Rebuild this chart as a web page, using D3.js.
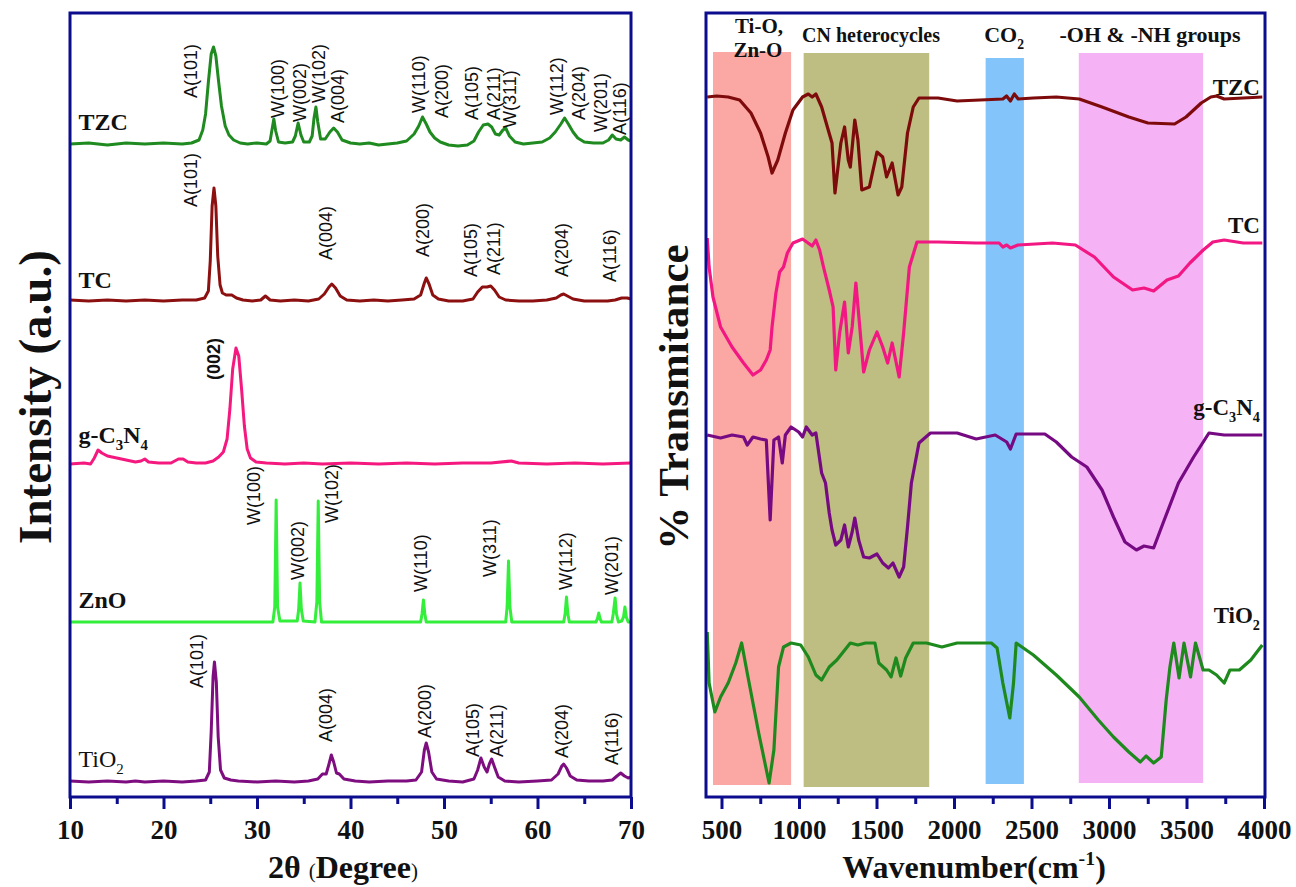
<!DOCTYPE html>
<html><head><meta charset="utf-8">
<script src="https://cdn.jsdelivr.net/npm/d3@7"></script>
<style>body{margin:0;background:#fff} svg{display:block}</style>
</head><body><svg id="c" width="1296" height="887"></svg>
<script>
// ---------------- XRD (left panel) : [2theta, relative intensity a.u.] ----------------
const xrdNames = ["TZC", "TC", "g-C3N4", "ZnO", "TiO2"];
const xrdOffsets = [656, 499, 336, 178, 18];
const xrdTZC = [[10,0],[12,1],[14,-1],[16,1],[18,0],[20,1],[22,0],[23,1],[23.8,4],[24.2,14],[24.5,30],[24.8,62],[25.1,90],[25.35,97],[25.6,88],[25.9,62],[26.2,38],[26.6,18],[27,9],[27.5,4],[28.2,1],[29,0],[30,1],[31,0],[31.4,3],[31.6,14],[31.8,25],[32.0,13],[32.3,2],[33,1],[33.8,2],[34.1,8],[34.4,21],[34.7,9],[35.0,2],[35.6,2],[35.9,8],[36.1,26],[36.3,37],[36.5,22],[36.8,5],[37.3,5],[37.8,12],[38.2,16],[38.6,12],[39.1,4],[40,1],[41,0],[42,1],[43,-1],[44,0],[45,1],[46,3],[46.8,10],[47.3,18],[47.7,27],[48.1,20],[48.5,12],[49,6],[49.6,2],[50.5,-1],[51.5,-2],[52.5,-1],[53.2,3],[53.7,12],[54.2,19],[54.7,20],[55.1,17],[55.5,10],[55.9,9],[56.3,14],[56.6,16],[57,8],[57.6,2],[58.5,0],[59.5,1],[60.5,2],[61.3,6],[61.9,12],[62.5,20],[62.9,26],[63.3,20],[63.8,12],[64.3,6],[65,2],[66,1],[67,1],[67.6,4],[68.0,9],[68.4,5],[68.9,4],[69.3,7],[69.7,4],[70,3]];
const xrdTC = [[10,1],[12,0],[14,1],[16,0],[18,1],[20,0],[22,1],[23.5,1],[24.4,3],[24.8,10],[25.0,40],[25.2,95],[25.4,113],[25.6,95],[25.8,45],[26.05,16],[26.3,8],[26.7,6],[27.3,6],[27.8,3],[28.5,1],[29.5,0],[30.4,1],[30.9,5],[31.4,1],[32.5,0],[34,1],[35.5,0],[36.6,2],[37.2,7],[37.7,14],[38.0,17],[38.4,13],[38.9,5],[39.6,1],[41,0],[42.5,1],[44,0],[45.5,1],[46.8,2],[47.5,6],[47.9,18],[48.1,23],[48.4,17],[48.8,6],[49.4,2],[50.5,0],[52,0],[53.1,2],[53.6,9],[54.1,14],[54.6,14],[55.0,15],[55.4,11],[55.9,4],[56.6,1],[58,0],[59.5,0],[61,1],[62,3],[62.5,6],[62.8,7],[63.2,5],[63.8,2],[65,0],[66.5,0],[67.5,0],[68.3,1],[69,3],[69.6,3],[70,2]];
const xrdGCN = [[10,0],[11.5,1],[12.2,0],[12.6,6],[13.0,14],[13.4,11],[14,8],[15,6],[16,4],[17,2],[17.6,3],[18.0,5],[18.4,2],[19.5,1],[20.8,1],[21.6,5],[22.1,5],[22.6,2],[23.5,1],[24.5,1],[25.3,3],[25.9,7],[26.4,12],[26.8,25],[27.1,55],[27.4,95],[27.75,116],[28.05,108],[28.35,75],[28.65,38],[28.95,15],[29.3,6],[29.9,2],[31,1],[33,0],[35,1],[37,0],[40,1],[43,0],[46,1],[49,0],[52,1],[55,1],[57.2,3],[58,1],[61,0],[64,1],[67,0],[70,1]];
const xrdZnO = [[10,0],[31.7,0],[31.9,15],[32.05,122],[32.2,15],[32.45,1],[34.3,1],[34.45,12],[34.6,39],[34.75,12],[34.95,1],[36.2,0],[36.4,20],[36.55,121],[36.7,20],[36.9,0],[47.5,0],[47.65,8],[47.8,22],[47.95,8],[48.1,0],[56.6,0],[56.75,15],[56.9,61],[57.05,15],[57.25,0],[62.8,0],[62.95,8],[63.1,25],[63.25,8],[63.4,0],[66.25,0],[66.4,3],[66.55,9],[66.7,3],[66.85,0],[67.95,0],[68.1,8],[68.3,24],[68.45,8],[68.65,0],[69.0,1],[69.2,5],[69.35,15],[69.5,5],[69.7,0],[70,0]];
const xrdTiO2 = [[10,1],[12,0],[14,1],[16,0],[17,1],[18,0],[20,1],[22,0],[23.5,1],[24.5,2],[24.9,10],[25.1,50],[25.3,105],[25.45,120],[25.65,100],[25.85,45],[26.1,12],[26.5,4],[27.2,2],[28,1],[30,0],[32,1],[34,0],[35.5,1],[36.5,3],[37.0,8],[37.4,8],[37.7,18],[37.95,27],[38.2,20],[38.5,9],[38.8,8],[39.3,3],[40.5,1],[42,0],[44,1],[46,1],[47,2],[47.6,10],[47.9,32],[48.1,39],[48.35,30],[48.7,10],[49.2,3],[50.5,1],[52,0],[53.2,3],[53.6,12],[53.95,24],[54.3,15],[54.6,10],[54.85,18],[55.1,23],[55.4,15],[55.8,5],[56.5,1],[58,0],[60,1],[61.5,2],[62.2,8],[62.6,16],[62.8,18],[63.1,14],[63.5,6],[64.2,2],[65.5,1],[67,1],[68,2],[68.5,6],[68.9,9],[69.3,6],[69.7,4],[70,5]];
const xrdSeries = [xrdTZC, xrdTC, xrdGCN, xrdZnO, xrdTiO2];
const xrdNameLevels = [670, 512, 357, 192, 33];
const xrdTicks = [10, 20, 30, 40, 50, 60, 70];
const xrdMinorTicks = [15, 25, 35, 45, 55, 65];
// peak labels: [text, 2theta, level a.u.]
const labelsTZC = [["A(101)",22.96,702],["W(100)",32.29,682],["W(002)",34.64,678],["W(102)",36.68,697],["A(004)",38.71,677],["W(110)",47.29,687],["A(200)",49.75,682],["A(105)",52.96,680],["A(211)",55.32,680],["W(311)",57.09,672],["W(112)",62.07,685],["A(204)",64.43,680],["W(201)",66.79,668],["A(116)",68.82,665]];
const labelsTC = [["A(101)",22.96,593],["A(004)",37.43,540],["A(200)",47.77,543],["A(105)",52.93,523],["A(211)",55.32,525],["A(204)",62.61,523],["A(116)",67.75,518]];
const labelsGCN = [["(002)",25.38,420]];
const labelsZnO = [["W(100)",29.71,275],["W(002)",34.43,220],["W(102)",38.07,277],["W(110)",47.58,208],["W(311)",54.89,223],["W(112)",63.04,210],["W(201)",67.96,205]];
const labelsTiO2 = [["A(101)",23.61,112],["A(004)",37.43,58],["A(200)",47.97,62],["A(105)",53.13,43],["A(211)",55.7,43],["A(204)",62.61,42],["A(116)",67.96,35]];

// ---------------- FTIR (right panel) : [wavenumber, transmittance a.u.] ----------------
const ftirNames = ["TZC", "TC", "g-C3N4", "TiO2"];
const ftirTZC = [[408,703],[469,704],[543,703],[617,700],[690,687],[752,667],[801,643],[826,627],[863,640],[912,667],[961,690],[1023,703],[1060,706],[1085,703],[1109,706],[1146,693],[1183,673],[1213,657],[1232,607],[1270,657],[1294,673],[1318,640],[1331,633],[1360,680],[1380,660],[1405,610],[1454,613],[1503,648],[1540,643],[1565,623],[1601,637],[1639,605],[1663,613],[1700,667],[1737,693],[1774,702],[1897,702],[2020,699],[2168,700],[2315,701],[2339,704],[2364,699],[2389,706],[2414,701],[2512,702],[2660,703],[2808,701],[2955,693],[3128,683],[3251,677],[3423,676],[3497,683],[3595,697],[3657,703],[3694,704],[3743,701],[3866,702],[3989,703]];
const ftirTC = [[408,562],[420,533],[445,503],[494,473],[568,453],[642,437],[703,425],[752,430],[789,440],[814,450],[826,473],[851,507],[875,528],[900,533],[925,547],[961,557],[1023,561],[1085,554],[1109,560],[1133,550],[1158,533],[1195,510],[1220,493],[1237,430],[1262,467],[1294,498],[1318,447],[1343,473],[1367,517],[1392,473],[1417,428],[1454,450],[1503,468],[1540,453],[1572,437],[1601,457],[1646,423],[1675,467],[1712,533],[1761,558],[1897,558],[2143,557],[2291,557],[2315,553],[2340,555],[2364,552],[2413,555],[2635,557],[2783,555],[2906,543],[3029,523],[3152,510],[3226,512],[3288,509],[3374,520],[3448,524],[3522,537],[3608,550],[3670,558],[3743,560],[3866,557],[3989,557]];
const ftirGCN = [[408,365],[494,362],[568,365],[642,363],[666,355],[703,363],[752,361],[789,360],[814,280],[838,360],[868,363],[892,337],[912,365],[949,373],[998,368],[1023,363],[1047,373],[1085,365],[1109,367],[1146,327],[1171,317],[1195,287],[1213,270],[1237,255],[1270,260],[1294,275],[1318,253],[1343,268],[1360,282],[1385,260],[1417,243],[1454,242],[1503,246],[1540,237],[1577,232],[1606,237],[1646,223],[1675,233],[1700,273],[1725,317],[1774,357],[1848,367],[2020,367],[2143,361],[2266,365],[2340,358],[2364,351],[2401,366],[2586,366],[2660,358],[2759,343],[2857,333],[2955,310],[3029,283],[3103,258],[3177,250],[3226,254],[3288,252],[3349,277],[3448,317],[3546,343],[3645,367],[3743,365],[3866,365],[3989,365]];
const ftirTiO2 = [[408,168],[420,117],[457,88],[494,103],[543,117],[592,137],[630,157],[666,127],[740,67],[807,17],[838,50],[868,133],[900,153],[949,157],[1011,155],[1060,143],[1109,125],[1146,120],[1195,133],[1244,140],[1331,157],[1380,155],[1429,157],[1490,157],[1515,137],[1565,130],[1594,123],[1626,142],[1656,124],[1688,142],[1737,157],[1823,157],[1922,153],[2020,157],[2241,157],[2278,152],[2315,117],[2360,82],[2384,117],[2401,157],[2512,145],[2660,125],[2808,103],[2931,80],[3029,63],[3128,48],[3202,38],[3239,44],[3288,37],[3337,43],[3369,100],[3393,133],[3418,157],[3452,122],[3484,157],[3526,123],[3558,157],[3607,130],[3645,130],[3694,125],[3743,117],[3780,130],[3841,130],[3915,140],[3989,155]];
const ftirSeries = [ftirTZC, ftirTC, ftirGCN, ftirTiO2];
const ftirNameLevels = [705, 567, 385, 177];
const ftirTicks = [500, 1000, 1500, 2000, 2500, 3000, 3500, 4000];
const ftirMinorTicks = [750, 1250, 1750, 2250, 2750, 3250, 3750];
// shaded assignment bands
const bandNames = ["Ti-O, Zn-O", "CN heterocycles", "CO2", "-OH & -NH groups"];
const bandStart = [445, 1030, 2204, 2805];
const bandEnd = [949, 1840, 2451, 3607];
const bandTop = [748, 747, 742, 747];
const bandBottom = [15, 13, 16, 17];

// ---------------- styles ----------------
const frameColor = "#0c0c8e";
const xrdColors = ["#1f8a1f", "#8c1010", "#f5197f", "#33ee3a", "#7e0e80"];
const ftirColors = ["#7e0b0b", "#f21782", "#760a82", "#1e8a1e"];
const bandColors = ["#fba8a5", "#bebd82", "#83c4fb", "#f5b3f5"];
const serif = "'Liberation Serif','Times New Roman',serif";
const sans = "'Liberation Sans',Arial,sans-serif";

const svg = d3.select("#c");
svg.append("rect").attr("width",1296).attr("height",887).attr("fill","#fff");

const xL = d3.scaleLinear().domain([10,70]).range([70,631]);
const xR = d3.scaleLinear().domain([400,4000]).range([706,1264]);
const y = d3.scaleLinear().domain([0,788]).range([800,12]);
const axisY = 797;

// rich text helper: parts = [[text, mode]] mode 0 normal, 1 sub, 2 sup
function rich(sel, parts, size) {
  let shift = 0;
  parts.forEach(([t, m]) => {
    const target = m === 1 ? size*0.3 : m === 2 ? -size*0.4 : 0;
    sel.append("tspan").attr("dy", target - shift)
      .attr("font-size", m ? size*0.62 : size).text(t);
    shift = target;
  });
}
function nameParts(n) {
  if (n === "g-C3N4") return [["g-C",0],["3",1],["N",0],["4",1]];
  if (n === "TiO2") return [["TiO",0],["2",1]];
  return [[n,0]];
}

// ---------- right bands ----------
const gR = svg.append("g");
gR.selectAll("rect.band").data(bandStart).join("rect").attr("class","band")
  .attr("x", (d,i) => xR(d)).attr("width", (d,i) => xR(bandEnd[i]) - xR(d))
  .attr("y", (d,i) => y(bandTop[i])).attr("height", (d,i) => y(bandBottom[i]) - y(bandTop[i]))
  .attr("fill", (d,i) => bandColors[i]);

// ---------- lines ----------
const gL = svg.append("g");
xrdSeries.forEach((s, i) => {
  const line = d3.line().x(d => xL(d[0])).y(d => y(d[1] + xrdOffsets[i]));
  gL.append("path").datum(s).attr("d", line).attr("fill","none")
    .attr("stroke", xrdColors[i]).attr("stroke-width", 3).attr("stroke-linejoin","round");
});
ftirSeries.forEach((s, i) => {
  const line = d3.line().x(d => xR(d[0])).y(d => y(d[1]));
  gR.append("path").datum(s).attr("d", line).attr("fill","none")
    .attr("stroke", ftirColors[i]).attr("stroke-width", 3.2).attr("stroke-linejoin","round");
});

// ---------- frames ----------
svg.append("rect").attr("x", xL(10)).attr("y", 13).attr("width", xL(70)-xL(10)).attr("height", axisY-13)
  .attr("fill","none").attr("stroke", frameColor).attr("stroke-width", 3);
svg.append("rect").attr("x", xR(400)).attr("y", 13).attr("width", xR(4000)-xR(400)+1).attr("height", axisY-13)
  .attr("fill","none").attr("stroke", frameColor).attr("stroke-width", 3);

// ---------- axes ----------
function styleAxis(g) {
  g.attr("font-family", serif);
  g.select(".domain").remove();
  g.selectAll(".tick line").attr("stroke", frameColor).attr("stroke-width", 3);
  g.selectAll(".tick text").attr("font-family", serif).attr("font-weight","bold")
    .attr("font-size", 27).attr("fill", "#111");
}
svg.append("g").attr("transform", `translate(0,${axisY})`)
  .call(d3.axisBottom(xL).tickValues(xrdTicks).tickSize(12).tickPadding(11).tickFormat(d3.format("d"))).call(styleAxis);
svg.append("g").attr("transform", `translate(0,${axisY})`)
  .call(d3.axisBottom(xL).tickValues(xrdMinorTicks).tickSize(7).tickFormat("")).call(styleAxis);
svg.append("g").attr("transform", `translate(0,${axisY})`)
  .call(d3.axisBottom(xR).tickValues(ftirTicks).tickSize(12).tickPadding(11).tickFormat(d3.format("d"))).call(styleAxis);
svg.append("g").attr("transform", `translate(0,${axisY})`)
  .call(d3.axisBottom(xR).tickValues(ftirMinorTicks).tickSize(7).tickFormat("")).call(styleAxis);

// ---------- axis titles ----------
const t1 = svg.append("text").attr("x", 343).attr("y", 878).attr("text-anchor","middle")
  .attr("font-family", serif).attr("font-weight","bold").attr("fill","#111");
t1.append("tspan").attr("font-size", 32).text("2θ ");
t1.append("tspan").attr("font-size", 21).attr("font-weight","normal").text("(");
t1.append("tspan").attr("font-size", 32).text("Degree");
t1.append("tspan").attr("font-size", 21).attr("font-weight","normal").text(")");

const t2 = svg.append("text").attr("x", 974).attr("y", 878).attr("text-anchor","middle")
  .attr("font-family", serif).attr("font-weight","bold").attr("fill","#111");
rich(t2, [["Wavenumber(cm",0],["-1",2],[")",0]], 32);

svg.append("text").attr("transform","translate(51,397) rotate(-90)").attr("text-anchor","middle")
  .attr("font-family", serif).attr("font-weight","bold").attr("font-size", 47).attr("fill","#111")
  .text("Intensity (a.u.)");
svg.append("text").attr("transform","translate(688,397) rotate(-90)").attr("text-anchor","middle")
  .attr("font-family", serif).attr("font-weight","bold").attr("font-size", 43).attr("fill","#111")
  .text("% Transmitance");

// ---------- series names ----------
xrdNames.forEach((n, i) => {
  const t = svg.append("text").attr("x", xL(10.9)).attr("y", y(xrdNameLevels[i]))
    .attr("font-family", serif).attr("font-weight", n === "TiO2" ? "normal" : "bold").attr("fill","#111");
  rich(t, nameParts(n), 24);
});
ftirNames.forEach((n, i) => {
  const t = svg.append("text").attr("x", xR(3974)).attr("y", y(ftirNameLevels[i])).attr("text-anchor","end")
    .attr("font-family", serif).attr("font-weight","bold").attr("fill","#111");
  rich(t, nameParts(n), 23);
});

// ---------- peak labels ----------
[labelsTZC, labelsTC, labelsGCN, labelsZnO, labelsTiO2].forEach((arr, si) => {
  svg.append("g").selectAll("text").data(arr).join("text")
    .attr("transform", d => `translate(${xL(d[1])},${y(d[2])}) rotate(-90)`)
    .attr("dominant-baseline","central")
    .attr("font-family", sans).attr("font-size", 18)
    .attr("font-weight", si === 2 ? "bold" : "normal").attr("fill","#111")
    .text(d => d[0]);
});

// ---------- band labels ----------
const bl = svg.append("g").attr("font-family", serif).attr("font-weight","bold").attr("fill","#111").attr("text-anchor","middle");
bl.append("text").attr("x", xR(742)).attr("y", y(767)).attr("font-size", 21).text(bandNames[0].split(" ")[0]);
bl.append("text").attr("x", xR(735)).attr("y", y(743)).attr("font-size", 21).text(bandNames[0].split(" ")[1]);
bl.append("text").attr("x", xR(1465)).attr("y", y(758)).attr("font-size", 20).text(bandNames[1]);
rich(bl.append("text").attr("x", xR(2323)).attr("y", y(758)), [["CO",0],["2",1]], 22);
bl.append("text").attr("x", xR(3265)).attr("y", y(758)).attr("font-size", 22).text(bandNames[3]);
</script></body></html>
